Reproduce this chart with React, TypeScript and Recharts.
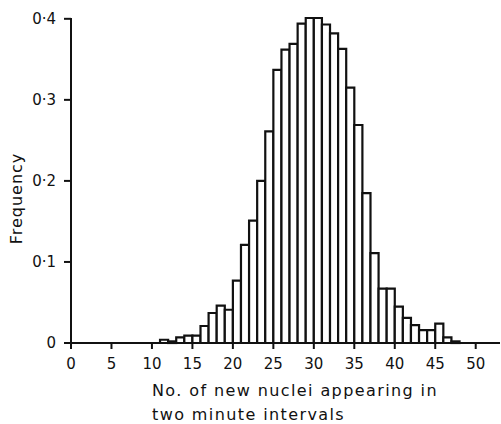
import React from 'react';
import { ComposedChart, Bar, XAxis, YAxis, Label } from 'recharts';

const binStarts = [11,12,13,14,15,16,17,18,19,20,21,22,23,24,25,26,27,28,29,30,31,32,33,34,35,36,37,38,39,40,41,42,43,44,45,46,47];
const frequencies = [0.004,0.002,0.007,0.009,0.009,0.021,0.037,0.046,0.041,0.077,0.121,0.151,0.200,0.261,0.337,0.362,0.369,0.394,0.401,0.401,0.393,0.382,0.363,0.315,0.269,0.185,0.111,0.067,0.067,0.045,0.031,0.022,0.016,0.016,0.024,0.007,0.002];
const xTicks = [0,5,10,15,20,25,30,35,40,45,50];
const yTicks = [0,0.1,0.2,0.3,0.4];
const xLabelLines = ['No. of new nuclei  appearing  in', 'two minute intervals'];
const yLabel = 'Frequency';

const data = binStarts.map((s, i) => ({ x: s + 0.5, f: frequencies[i] }));

const FONT = '"DejaVu Sans", sans-serif';

const fmtY = (v: number) => (v === 0 ? '0' : v.toFixed(1).replace('.', '\u00B7'));

const XLabel = (props: any) => {
  const vb = props.viewBox || {};
  const x0 = vb.x + 81;
  const y0 = vb.y + 53;
  return (
    <text x={x0} y={y0} fontFamily={FONT} fontSize={16} letterSpacing={1.4} fill="#111" textAnchor="start">
      <tspan x={x0} dy={0}>{xLabelLines[0]}</tspan>
      <tspan x={x0} dy={24}>{xLabelLines[1]}</tspan>
    </text>
  );
};

const YLabel = (props: any) => {
  const vb = props.viewBox || {};
  const cx = vb.x + 22;
  const cy = vb.y + vb.height / 2 + 18;
  return (
    <text
      x={cx}
      y={cy}
      transform={`rotate(-90 ${cx} ${cy})`}
      fontFamily={FONT}
      fontSize={16}
      letterSpacing={1}
      fill="#111"
      textAnchor="middle"
    >
      {yLabel}
    </text>
  );
};

export default function App() {
  return (
    <div style={{ position: 'absolute', left: 0, top: 0, background: '#fff' }}>
      <ComposedChart
        width={501}
        height={424}
        data={data}
        margin={{ top: 18, right: 1, left: 0, bottom: 51 }}
      >
        <XAxis
          dataKey="x"
          type="number"
          domain={[0, 53]}
          ticks={xTicks}
          allowDataOverflow
          stroke="#111"
          strokeWidth={2}
          tickSize={6}
          tickMargin={9}
          height={30}
          tick={{ fontFamily: FONT, fontSize: 15, fill: '#111' }}
          interval={0}
        >
          <Label content={<XLabel />} />
        </XAxis>
        <YAxis
          type="number"
          domain={[0, 0.4]}
          ticks={yTicks}
          tickFormatter={fmtY}
          width={71}
          stroke="#111"
          strokeWidth={2}
          tickSize={7}
          tickMargin={8}
          tick={{ fontFamily: FONT, fontSize: 15, fill: '#111' }}
          interval={0}
        >
          <Label content={<YLabel />} />
        </YAxis>
        <Bar
          dataKey="f"
          barSize={8.094}
          fill="#fff"
          stroke="#111"
          strokeWidth={2.2}
          isAnimationActive={false}
        />
      </ComposedChart>
    </div>
  );
}
